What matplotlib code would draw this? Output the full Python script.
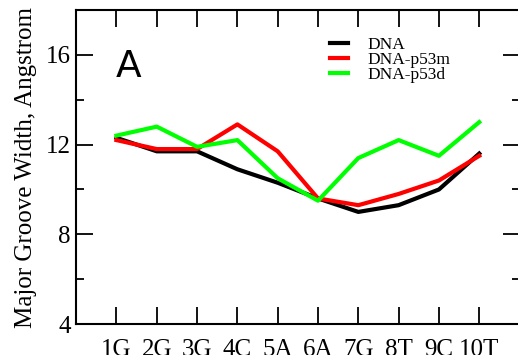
import matplotlib
matplotlib.use("Agg")
import matplotlib.pyplot as plt
from matplotlib.ticker import MultipleLocator

# base-pair steps along the DNA
steps = ["1G", "2G", "3G", "4C", "5A", "6A", "7G", "8T", "9C", "10T"]

# major groove width (Angstrom)
dna = [12.3, 11.7, 11.7, 10.9, 10.3, 9.6, 9.0, 9.3, 10.0, 11.6]
dna_p53m = [12.2, 11.8, 11.8, 12.9, 11.7, 9.6, 9.3, 9.8, 10.4, 11.5]
dna_p53d = [12.4, 12.8, 11.9, 12.2, 10.5, 9.5, 11.4, 12.2, 11.5, 13.0]

plt.rcParams['font.family'] = ['Liberation Serif', 'DejaVu Serif']

fig = plt.figure(figsize=(5.18, 3.55), dpi=100)
ax = fig.add_axes([0.147, 0.087, 0.856, 0.885])

x = list(range(1, len(steps) + 1))
ax.plot(x, dna, color='black', lw=3, label='DNA')
ax.plot(x, dna_p53m, color='#ff0000', lw=3, label='DNA-p53m')
ax.plot(x, dna_p53d, color='#00ff00', lw=3, label='DNA-p53d')

ax.set_xlim(0, 11)
ax.set_ylim(4, 18)
ax.set_xticks(x)
ax.set_xticklabels(steps)
ax.yaxis.set_major_locator(MultipleLocator(4))
ax.yaxis.set_minor_locator(MultipleLocator(2))

ax.tick_params(axis='both', which='major', direction='in', length=12, width=1.3,
               labelsize=18, top=True, right=True)
ax.tick_params(axis='y', which='minor', direction='in', length=6, width=1.3, right=True)
ax.tick_params(axis='x', pad=11)
ax.tick_params(axis='y', pad=4)
for s in ax.spines.values():
    s.set_linewidth(1.5)

ax.set_ylabel('Major Groove Width, Angstrom', fontsize=18, labelpad=6)

ax.text(1.3, 15.45, 'A', fontsize=27, family='DejaVu Sans', ha='center', va='center')

leg = ax.legend(loc='upper left', bbox_to_anchor=(0.557, 0.935), frameon=False,
                fontsize=12.5, handlelength=1.05, handletextpad=1.1,
                labelspacing=-0.07, borderaxespad=0)

fig.savefig('out.png', dpi=100)
